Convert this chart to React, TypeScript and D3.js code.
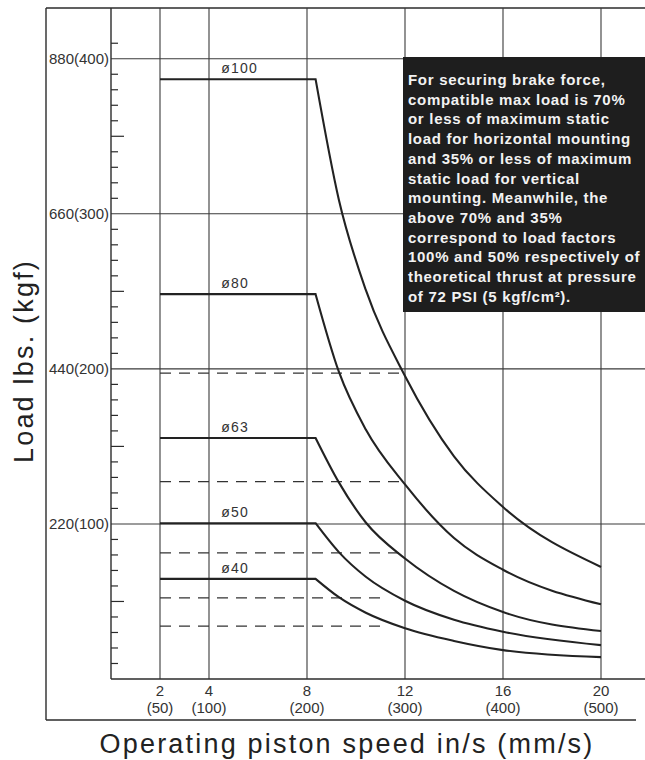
import React, { useEffect, useRef } from 'react';
import * as d3 from 'd3';

// tick labels
const speedTicks = [2, 4, 8, 12, 16, 20];
const speedTickMm = ['(50)', '(100)', '(200)', '(300)', '(400)', '(500)'];
const loadTicks = [220, 440, 660, 880];
const loadTickKgf = ['(100)', '(200)', '(300)', '(400)'];

// curves: flat from 2 in/s, then falling off
const boreLabels = ['ø100', 'ø80', 'ø63', 'ø50', 'ø40'];
const flatStart = 2;
const curveSpeeds = [8.35, 9.3, 10.4, 12, 14, 16, 20];
const load100 = [851, 680, 552, 430, 316, 244, 159];
const load80 = [546, 436, 354, 276, 200, 155, 106];
const load63 = [342, 279, 222, 171, 125, 95, 68];
const load50 = [221, 180, 145, 111, 84, 67, 48];
const load40 = [142, 116, 94, 72, 54, 41, 31];

// dashed 50% lines
const halfLoads = [434, 280, 179, 115, 75];
const halfEnds = [11.9, 11.9, 11.8, 11.1, 11.1];

const noteLines = [
  'For securing brake force,',
  'compatible max load is 70%',
  'or less of maximum static',
  'load for horizontal mounting',
  'and 35% or less of maximum',
  'static load for vertical',
  'mounting. Meanwhile, the',
  'above 70% and 35%',
  'correspond to load factors',
  '100% and 50% respectively of',
  'theoretical thrust at pressure',
  'of 72 PSI (5 kgf/cm²).'
];

const FONT = '"Liberation Sans", Arial, Helvetica, sans-serif';

const App = () => {
  const svgRef = useRef<SVGSVGElement>(null);
  const width = 645;
  const height = 760;

  useEffect(() => {
    const svg = d3.select(svgRef.current);
    svg.selectAll('*').remove();

    const x = d3.scaleLinear().domain([0, 20]).range([111, 601]);
    const y = d3.scaleLinear().domain([0, 952]).range([679, 8]);
    const top = y.range()[1];
    const bottom = y.range()[0];
    const left = x.range()[0];
    const ink = '#2b2b2b';

    svg.append('rect').attr('width', width).attr('height', height).attr('fill', '#fff');

    // frame
    const frame = svg.append('g').attr('stroke', ink).attr('stroke-width', 1.4).attr('fill', 'none');
    frame.append('line').attr('x1', 46).attr('x2', width).attr('y1', top).attr('y2', top);
    frame.append('line').attr('x1', 46).attr('x2', 46).attr('y1', top).attr('y2', 720);
    frame.append('line').attr('x1', 46).attr('x2', 636).attr('y1', 720).attr('y2', 720);

    // grid
    const grid = svg.append('g').attr('stroke', '#3a3a3a').attr('stroke-width', 1.1);
    grid.selectAll('.vg').data(speedTicks).enter().append('line')
      .attr('x1', d => x(d)).attr('x2', d => x(d))
      .attr('y1', top).attr('y2', bottom);
    grid.selectAll('.hg').data(loadTicks).enter().append('line')
      .attr('x1', left).attr('x2', width)
      .attr('y1', d => y(d)).attr('y2', d => y(d));

    // axes
    svg.append('line').attr('x1', left).attr('x2', left).attr('y1', top).attr('y2', bottom)
      .attr('stroke', ink).attr('stroke-width', 1.4);
    svg.append('line').attr('x1', left).attr('x2', width).attr('y1', bottom).attr('y2', bottom)
      .attr('stroke', ink).attr('stroke-width', 1.4);

    // minor ticks every 22 lbs (10 kgf)
    const minor = d3.range(22, 903, 22).filter(v => Math.round(v) % 220 !== 0);
    svg.append('g').selectAll('line').data(minor).enter().append('line')
      .attr('x1', left)
      .attr('x2', d => (Math.round(d / 22) % 10 === 5 ? left + 13 : left + 7))
      .attr('y1', d => y(d)).attr('y2', d => y(d))
      .attr('stroke', ink).attr('stroke-width', 1.2);

    // y tick labels
    svg.append('g').selectAll('text').data(loadTicks).enter().append('text')
      .attr('x', left - 2).attr('y', d => y(d) + 5)
      .attr('text-anchor', 'end')
      .attr('font-family', FONT).attr('font-size', 15).attr('fill', '#333')
      .text((d, i) => `${d}${loadTickKgf[i]}`);

    // x tick labels
    const xl = svg.append('g').attr('font-family', FONT).attr('font-size', 15)
      .attr('fill', '#333').attr('text-anchor', 'middle');
    xl.selectAll('.t1').data(speedTicks).enter().append('text')
      .attr('x', d => x(d)).attr('y', 696).text(d => d);
    xl.selectAll('.t2').data(speedTicks).enter().append('text')
      .attr('x', d => x(d)).attr('y', 713).text((d, i) => speedTickMm[i]);

    // dashed 50% lines
    svg.append('g').selectAll('line').data(halfLoads).enter().append('line')
      .attr('x1', x(flatStart)).attr('x2', (d, i) => x(halfEnds[i]))
      .attr('y1', d => y(d)).attr('y2', d => y(d))
      .attr('stroke', '#333').attr('stroke-width', 1.2)
      .attr('stroke-dasharray', '11 8');

    // curves
    const series = [load100, load80, load63, load50, load40];
    const line = d3.line<[number, number]>()
      .x(d => x(d[0])).y(d => y(d[1]))
      .curve(d3.curveMonotoneX);
    series.forEach((vals, i) => {
      const pts = curveSpeeds.map((v, j) => [v, vals[j]] as [number, number]);
      const tail = line(pts) || '';
      svg.append('path')
        .attr('d', `M${x(flatStart)},${y(vals[0])}L${tail.slice(1)}`)
        .attr('fill', 'none').attr('stroke', '#222').attr('stroke-width', 2.1);
      svg.append('text')
        .attr('x', x(4.5)).attr('y', y(vals[0]) - 6)
        .attr('font-family', FONT).attr('font-size', 14).attr('letter-spacing', 1.2)
        .attr('fill', '#333')
        .text(boreLabels[i]);
    });

    // note box
    svg.append('rect').attr('x', 403).attr('y', 57).attr('width', width - 403).attr('height', 255)
      .attr('fill', '#1e1e1e');
    svg.append('g').selectAll('text').data(noteLines).enter().append('text')
      .attr('x', 408).attr('y', (d, i) => 85 + i * 19.7)
      .attr('font-family', FONT).attr('font-size', 15).attr('font-weight', 'bold')
      .attr('letter-spacing', 0.7).attr('fill', '#f2f2f2')
      .text(d => d);

    // axis titles
    svg.append('text')
      .attr('x', 347).attr('y', 753).attr('text-anchor', 'middle')
      .attr('font-family', FONT).attr('font-size', 27).attr('letter-spacing', 2.2)
      .attr('fill', '#222')
      .text('Operating piston speed in/s (mm/s)');
    svg.append('text')
      .attr('transform', 'translate(33,361) rotate(-90)').attr('text-anchor', 'middle')
      .attr('font-family', FONT).attr('font-size', 27).attr('letter-spacing', 2.2)
      .attr('fill', '#222')
      .text('Load lbs. (kgf)');
  }, []);

  return (
    <svg ref={svgRef} width={width} height={height}
      style={{ position: 'absolute', left: 0, top: 0, display: 'block' }} />
  );
};

export default App;
